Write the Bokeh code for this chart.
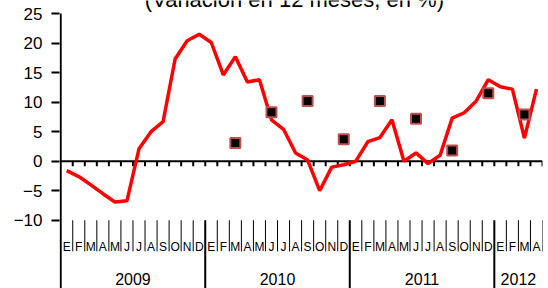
from bokeh.plotting import figure
from bokeh.models import Range1d, FixedTicker
from bokeh.embed import file_html
from bokeh.resources import INLINE
from bokeh.core.properties import value

# ---- data ----
years = ["2009", "2010", "2011", "2012"]
months_per_year = [12, 12, 12, 4]
month_names = ["E", "F", "M", "A", "M", "J", "J", "A", "S", "O", "N", "D"]

line_values = [
    -1.6, -2.6, -4.0, -5.5, -6.9, -6.7, 2.1, 5.0, 6.7, 17.3, 20.4, 21.5,
    20.1, 14.6, 17.7, 13.4, 13.8, 7.0, 5.4, 1.4, 0.2, -5.0, -1.0, -0.6,
    0.0, 3.3, 4.0, 7.0, 0.0, 1.4, -0.4, 1.0, 7.3, 8.2, 10.2, 13.8,
    12.6, 12.2, 3.9, 12.2,
]
# quarterly points (month index from Jan 2009)
square_months = [14, 17, 20, 23, 26, 29, 32, 35, 38]
square_values = [3.1, 8.3, 10.2, 3.7, 10.2, 7.2, 1.8, 11.5, 7.9]

y_ticks = [-10, -5, 0, 5, 10, 15, 20, 25]
title_text = "(Variación en 12 meses, en %)"

# ---- derived ----
month_labels = []
for n in months_per_year:
    month_labels += month_names[:n]
n_months = len(month_labels)
month_x = [i + 0.5 for i in range(n_months)]

year_bounds = []
acc = 0
year_centers = []
for n in months_per_year:
    year_centers.append(acc + n / 2)
    acc += n
    year_bounds.append(acc)

FONT = "Liberation Sans"
y_min_plot = -10
y_max_plot = 25
ppu = 5.886                      # pixels per y unit
y_bottom = y_min_plot - 68 / ppu  # room below the plot for the category labels
y_top = y_max_plot + 13 / ppu     # room above for the (cut-off) subtitle

p = figure(width=548, height=288,
           x_range=Range1d(-0.1, n_months), y_range=Range1d(y_bottom, y_top),
           output_backend="svg", toolbar_location=None,
           x_axis_location=None,
           min_border_left=59, min_border_right=6,
           min_border_top=0, min_border_bottom=0)
p.grid.visible = False
p.outline_line_color = None
p.background_fill_color = "white"
p.border_fill_color = "white"

ya = p.yaxis[0]
ya.ticker = FixedTicker(ticks=y_ticks)
ya.axis_line_color = None
ya.major_tick_line_width = 2
ya.major_tick_line_color = "black"
ya.major_tick_in = 0
ya.major_tick_out = 8
ya.minor_tick_line_color = None
ya.major_label_standoff = 9
ya.major_label_text_font = FONT
ya.major_label_text_font_size = "17px"
ya.major_label_text_color = "black"

# vertical axis line: from top of plot down through the category area
p.segment(x0=[0], x1=[0], y0=[y_bottom], y1=[y_max_plot],
          line_color="black", line_width=2)

# zero axis line with downward month ticks
p.segment(x0=[0], x1=[n_months], y0=[0], y1=[0], line_color="black", line_width=2)
tick_len = 5 / ppu
bx = list(range(1, n_months + 1))
p.segment(x0=bx, x1=bx, y0=[0] * len(bx), y1=[-tick_len] * len(bx),
          line_color="black", line_width=2)

# category separators below the plot
sep_bottom = y_min_plot - 31 / ppu
mx = [k for k in range(1, n_months + 1) if k not in year_bounds[:-1]]
p.segment(x0=mx, x1=mx, y0=[y_min_plot] * len(mx), y1=[sep_bottom] * len(mx),
          line_color="black", line_width=1)
yb = year_bounds[:-1]
p.segment(x0=yb, x1=yb, y0=[y_min_plot] * len(yb), y1=[y_bottom] * len(yb),
          line_color="black", line_width=2)

# month labels
p.text(x=month_x, y=[y_min_plot - 26.5 / ppu] * n_months, text=month_labels,
       text_align="center", text_baseline="middle",
       text_font=value(FONT), text_font_size="12px", text_color="black")
# year labels
p.text(x=year_centers, y=[y_min_plot - 58.5 / ppu] * len(years), text=years,
       text_align="center", text_baseline="middle",
       text_font=value(FONT), text_font_size="16px", text_color="black")

# series
p.line(x=month_x, y=line_values, line_color="#ff0000", line_width=3.5)
p.scatter(x=[m + 0.5 for m in square_months], y=square_values, marker="square",
          size=10, fill_color="black", line_color="#c0504d", line_width=2)

# subtitle (partly cut off at the top, as in the reference)
p.text(x=[19.4], y=[y_max_plot + 13.5 / ppu], text=[title_text],
       text_align="center", text_baseline="alphabetic",
       text_font=value(FONT), text_font_size="22px", text_color="black")

open("out.html", "w").write(file_html(p, INLINE))
